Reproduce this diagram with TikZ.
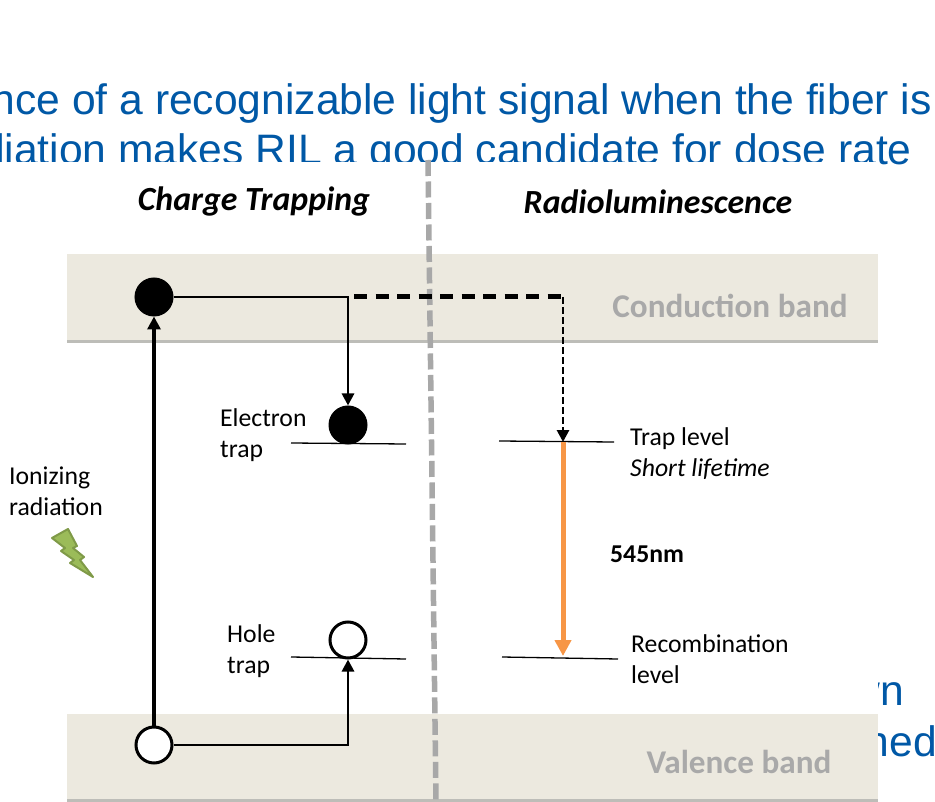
\documentclass[tikz,border=0pt]{standalone}
\usepackage{fontspec}
\setmainfont{Carlito}
\newfontfamily\arialfont{Liberation Sans}
\usetikzlibrary{arrows.meta}
\definecolor{bandfill}{HTML}{ECE9DF}
\definecolor{bandedge}{HTML}{BDBDB8}
\definecolor{bluetext}{HTML}{0058A6}
\definecolor{divider}{HTML}{A8A8A8}
\definecolor{bandtext}{HTML}{A9A9A9}
\definecolor{orangeline}{HTML}{F79646}
\definecolor{boltfill}{HTML}{9BBB59}
\definecolor{boltedge}{HTML}{7F9A48}
\tikzset{
  x=1pt,y=-1pt,
  blueline/.style={font=\arialfont\fontsize{42.6}{44}\selectfont,text=bluetext,inner sep=0pt,anchor=base east},
  band/.style={fill=bandfill,draw=none},
  title/.style={font=\fontsize{33.8}{36}\selectfont\bfseries\itshape,inner sep=0pt,anchor=base},
  bandlabel/.style={font=\fontsize{33.2}{36}\selectfont\bfseries,text=bandtext,inner sep=0pt,anchor=base},
  lab/.style={font=\fontsize{25.7}{31}\selectfont,inner sep=0pt,anchor=north west,align=left},
  full/.style={circle,fill=black,draw=black,line width=1pt,minimum size=38pt,inner sep=0pt},
  empty/.style={circle,fill=white,draw=black,line width=3pt,minimum size=36pt,inner sep=0pt},
  level/.style={draw=black,line width=1.3pt},
  conn/.style={draw=black,line width=2.8pt,-{Triangle[length=12pt,width=12pt]}},
}
\begin{document}
\begin{tikzpicture}
\useasboundingbox (0,0) rectangle (935,802);
\fill[white] (0,0) rectangle (935,802);
% text lying behind the inserted figure
\node[blueline] (t1) at (932,115) {nce of a recognizable light signal when the fiber is};
\node[blueline] (t2) at (912,165) {diation makes RIL a good candidate for dose rate};
\node[blueline] (t3) at (904,705) {wn};
\node[blueline] (t4) at (937,756) {ned};
\fill[white] (0,162) rectangle (878,802);
% bands
\fill[bandedge] (67,338) rectangle (878,343);
\fill[band] (67,254) rectangle (878,340);
\fill[bandedge] (67,797) rectangle (878,802);
\fill[band] (67,714) rectangle (878,799);
% divider
\coordinate (dtop) at (428,160);
\coordinate (dbot) at (436,802);
\draw[divider,line width=5.5pt,dash pattern=on 16pt off 5.5pt] (dtop) -- (dbot);
% titles
\node[title] (ct) at (254,211) {Charge Trapping};
\node[title] (rl) at (658,214) {Radioluminescence};
\node[bandlabel] (cb) at (730,318) {Conduction band};
\node[bandlabel] (vb) at (739,773) {Valence band};
% levels
\coordinate (e1) at (291,443); \coordinate (e2) at (406,444);
\coordinate (t1a) at (499,441); \coordinate (t2a) at (614,442);
\coordinate (h1) at (291,657); \coordinate (h2) at (406,659);
\coordinate (r1) at (502,657); \coordinate (r2) at (618,659);
\draw[level] (e1) -- (e2);
\draw[level] (t1a) -- (t2a);
\draw[level] (h1) -- (h2);
\draw[level] (r1) -- (r2);
% charges
\node[full] (ctop) at (154,297) {};
\node[full] (etrap) at (348,425) {};
\node[empty] (htrap) at (348,640) {};
\node[empty] (vbot) at (154,745) {};
% junctions
\coordinate (dstart) at (354,297);
\coordinate (dcorner) at (563,297);
\coordinate (ttop) at (563,442);
\coordinate (tbot) at (563,656);
\coordinate (ecorner) at (348,297);
\coordinate (hcorner) at (348,745);
% connectors
\draw[draw=black,line width=4pt,-{Triangle[length=13pt,width=13pt]}] (vbot) -- (ctop);
\draw[conn] (ctop) -- (ecorner) -- (etrap);
\draw[conn] (vbot) -- (hcorner) -- (htrap);
\draw[black,line width=5pt,dash pattern=on 13pt off 8.5pt] (dstart) -- (dcorner);
\draw[black,line width=2.8pt,dash pattern=on 7pt off 3pt,-{Triangle[length=12pt,width=12pt]}] (dcorner) -- (ttop);
\draw[orangeline,line width=5pt,-{Triangle[length=16pt,width=16pt]}] (ttop) -- (tbot);
% labels
\node[lab] (l1) at (220,408) {Electron\\trap};
\node[lab] (l2) at (227,624) {Hole\\trap};
\node[lab] (l3) at (630,427) {Trap level\\\textit{Short lifetime}};
\node[lab] (l4) at (631,634) {Recombination\\level};
\node[lab] (l5) at (9,467) {Ionizing\\radiation};
\node[lab,font=\fontsize{25.7}{31}\selectfont\bfseries] (l6) at (610,546) {545nm};
% lightning
\filldraw[fill=boltfill,draw=boltedge,line width=2pt,line join=round]
 (52,538) -- (68,529) -- (77,546) -- (73,548) -- (84,557) -- (80,560) -- (93,577) -- (70,563) -- (74,560) -- (61,551) -- (65,548) -- cycle;
\end{tikzpicture}
\end{document}
